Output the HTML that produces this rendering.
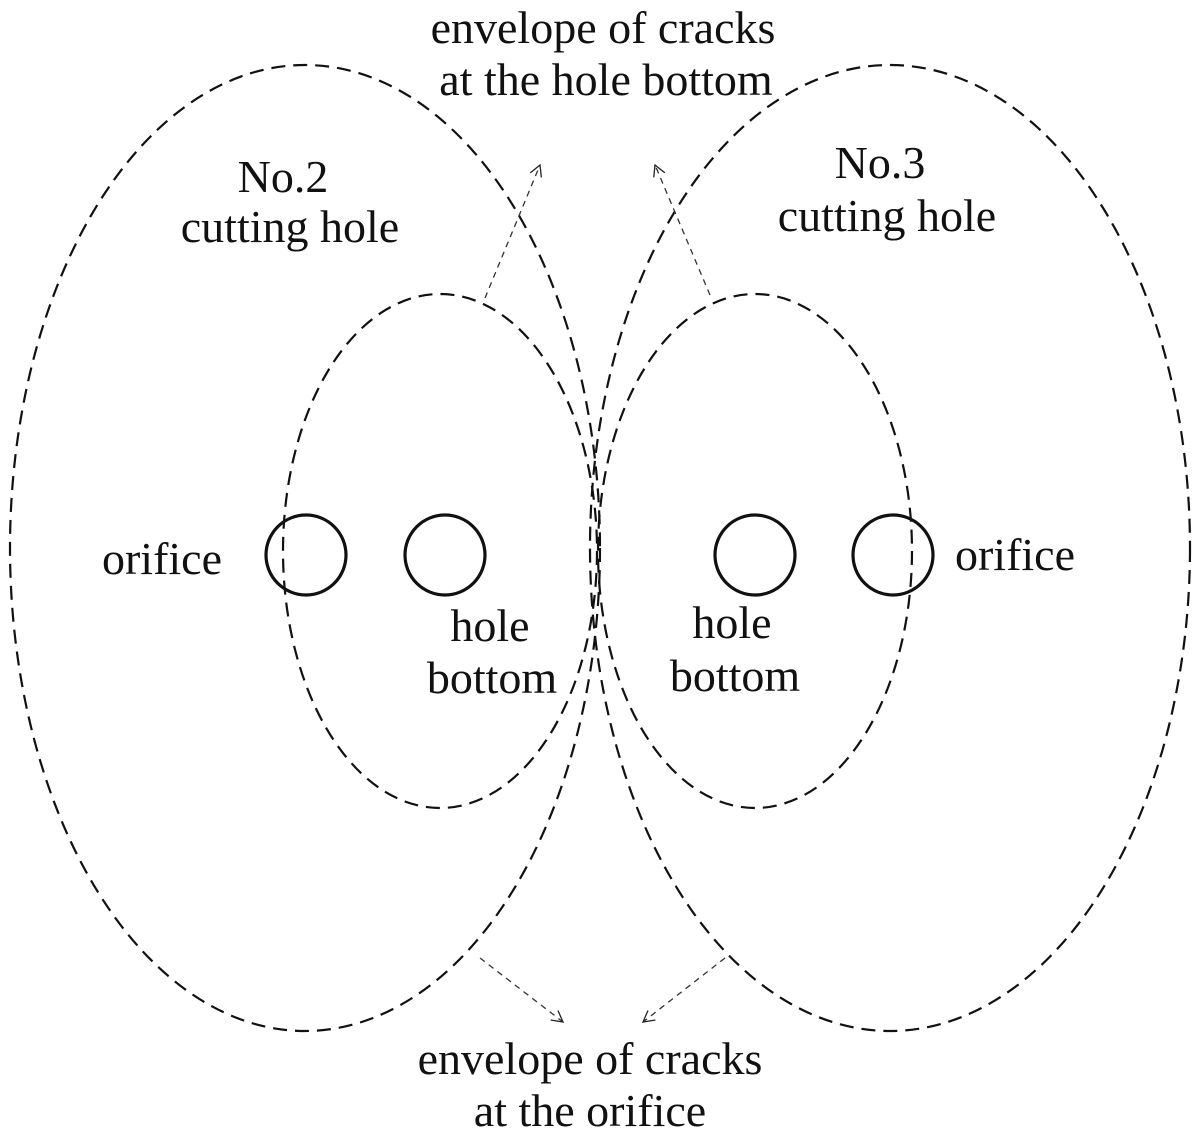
<!DOCTYPE html>
<html><head><meta charset="utf-8"><style>
html,body{margin:0;padding:0;background:#fff;}
svg{display:block;}
text{font-family:"Liberation Serif",serif;font-size:46px;fill:#111;}
</style></head><body>
<svg width="1198" height="1138" viewBox="0 0 1198 1138" xmlns="http://www.w3.org/2000/svg">
<defs>
<marker id="a" markerWidth="14" markerHeight="14" refX="12" refY="7" orient="auto" markerUnits="userSpaceOnUse">
<path d="M1,1 L12,7 L1,13" fill="none" stroke="#222" stroke-width="1.3"/>
</marker>
</defs>
<g fill="none" stroke="#111" stroke-width="2.2" stroke-dasharray="14,8">
<ellipse cx="305" cy="548" rx="295" ry="483"/>
<ellipse cx="890" cy="548" rx="300" ry="483"/>
<ellipse cx="440" cy="551" rx="157" ry="257"/>
<ellipse cx="755" cy="551" rx="157" ry="257"/>
</g>
<g fill="none" stroke="#111" stroke-width="3.2">
<circle cx="306" cy="555" r="40"/>
<circle cx="445" cy="555" r="40"/>
<circle cx="755" cy="555" r="40"/>
<circle cx="893" cy="555" r="40"/>
</g>
<g stroke="#333" stroke-width="1.3" stroke-dasharray="6,5" fill="none">
<line x1="485" y1="298" x2="540" y2="165" marker-end="url(#a)"/>
<line x1="710" y1="295" x2="655" y2="165" marker-end="url(#a)"/>
<line x1="480" y1="958" x2="563" y2="1022" marker-end="url(#a)"/>
<line x1="725" y1="958" x2="643" y2="1022" marker-end="url(#a)"/>
</g>
<g text-anchor="middle">
<text x="603" y="43">envelope of cracks</text>
<text x="606" y="95">at the hole bottom</text>
<text x="283" y="192">No.2</text>
<text x="290" y="242">cutting hole</text>
<text x="880" y="178">No.3</text>
<text x="887" y="231">cutting hole</text>
<text x="162" y="574">orifice</text>
<text x="1015" y="570">orifice</text>
<text x="490" y="641">hole</text>
<text x="492" y="693">bottom</text>
<text x="732" y="638">hole</text>
<text x="735" y="691">bottom</text>
<text x="590" y="1074">envelope of cracks</text>
<text x="590" y="1126">at the orifice</text>
</g>
</svg>
</body></html>
